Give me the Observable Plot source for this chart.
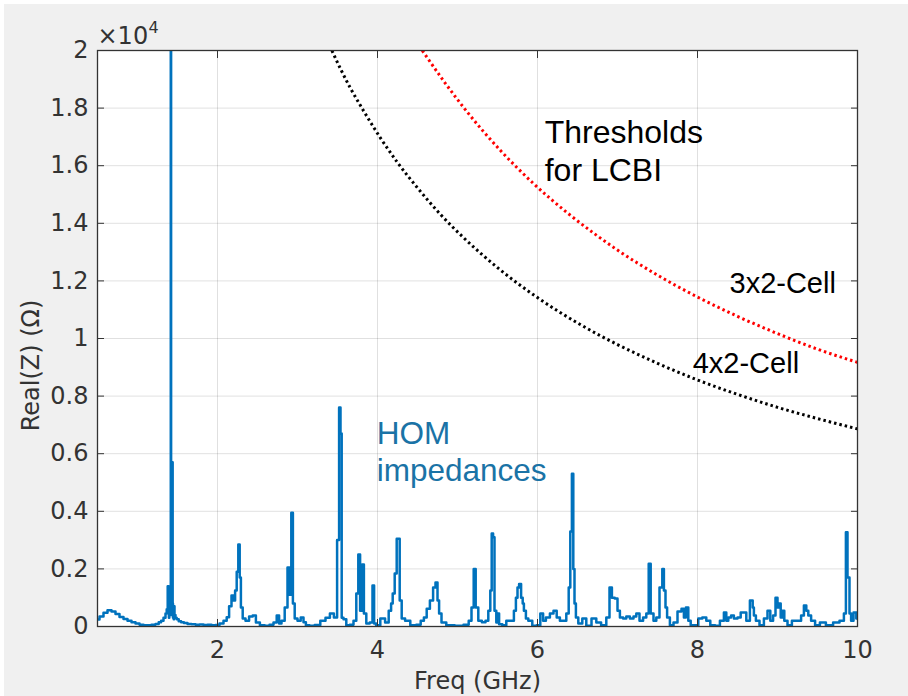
<!DOCTYPE html>
<html><head><meta charset="utf-8">
<script src="https://cdn.jsdelivr.net/npm/d3@7"></script>
<script src="https://cdn.jsdelivr.net/npm/@observablehq/plot@0.6"></script>
<style>
html,body{margin:0;padding:0;background:#fff;}
#chart{position:absolute;left:4px;top:4px;}
</style></head><body><div id="chart"></div>
<script>
// HOM impedance spectrum (GHz, Ohm)
const homFreq = [0.50,0.55,0.60,0.65,0.70,0.75,0.80,0.85,0.90,0.95,1.00,1.05,1.10,1.15,1.20,1.25,1.28,1.31,1.34,1.36,1.37,1.385,1.39,1.395,1.40,1.405,1.41,1.414,1.418,1.422,1.425,1.428,1.43,1.437,1.442,1.445,1.45,1.455,1.46,1.465,1.47,1.48,1.50,1.53,1.56,1.60,1.65,1.70,1.75,1.80,1.85,1.90,1.95,2.00,
2.05,2.10,2.13,2.16,2.19,2.21,2.23,2.25,2.27,2.285,2.30,2.33,2.37,2.42,2.46,2.50,2.56,2.62,2.68,2.72,2.76,2.78,2.82,2.86,2.89,2.91,2.935,2.95,2.98,3.02,3.06,3.09,3.12,3.18,3.25,3.32,3.38,3.43,3.48,3.51,3.53,3.545,3.56,3.59,3.63,3.68,3.72,3.75,3.77,3.795,3.82,3.84,3.88,3.925,3.95,3.965,4.00,
4.07,4.12,4.16,4.18,4.20,4.23,4.25,4.27,4.285,4.32,4.37,4.45,4.52,4.56,4.60,4.63,4.68,4.71,4.74,4.76,4.78,4.82,4.90,5.03,5.12,5.16,5.19,5.215,5.24,5.28,5.33,5.37,5.40,5.42,5.435,5.455,5.47,5.50,5.51,5.53,5.59,5.63,5.69,5.72,5.74,5.76,5.78,5.81,5.82,5.84,5.87,5.90,5.97,6.01,
6.06,6.08,6.13,6.18,6.22,6.26,6.30,6.34,6.38,6.40,6.42,6.44,6.455,6.47,6.49,6.53,6.59,6.63,6.72,6.75,6.84,6.88,6.92,6.94,6.99,7.01,7.05,7.09,7.13,7.18,7.22,7.25,7.30,7.34,7.38,7.40,7.43,7.47,7.50,7.55,7.57,7.59,7.61,7.63,7.68,7.72,7.78,7.82,7.84,7.87,7.90,7.93,7.99,
8.03,8.09,8.13,8.19,8.25,8.31,8.35,8.37,8.40,8.44,8.47,8.53,8.55,8.59,8.63,8.68,8.70,8.71,8.75,8.80,8.86,8.89,8.93,8.96,8.99,9.01,9.03,9.05,9.07,9.10,9.15,9.21,9.28,9.31,9.35,9.37,9.40,9.44,9.50,9.56,9.65,9.74,9.81,9.85,9.86,9.89,9.91,9.93,9.97,10.0];
const homZ = [240,350,480,560,520,430,330,260,200,150,100,60,40,40,60,90,150,200,300,450,600,1400,700,300,900,400,1200,500,20000,700,1500,400,900,5700,800,300,600,250,700,300,400,300,250,180,150,120,90,80,60,70,50,60,40,50,
100,200,320,700,1080,900,1250,1900,2850,1700,660,280,200,350,380,140,40,30,60,140,380,100,200,660,2050,1100,3950,800,280,200,310,150,40,30,50,200,300,450,310,3000,7600,6700,300,250,40,60,200,1150,2500,550,2150,450,100,140,1420,100,40,
280,140,550,800,1150,1840,3050,3050,900,280,200,40,60,200,310,620,900,1350,1530,900,450,140,40,30,60,200,660,2000,660,200,150,200,550,1250,3230,3100,550,140,450,80,40,200,200,550,1000,1350,1480,1000,800,550,280,200,30,40,
450,200,310,450,550,310,200,200,450,1350,3300,5300,2000,800,310,100,280,30,280,140,40,310,1350,1000,970,550,310,280,350,280,350,450,200,310,450,2180,450,200,310,1350,2000,1250,660,310,40,140,520,620,310,660,200,40,40,
280,310,200,40,30,200,490,200,310,380,280,310,490,490,200,900,660,380,200,40,280,550,200,380,1000,660,800,310,550,200,40,200,200,380,730,550,380,200,40,140,40,140,200,450,3270,1700,450,200,490,280];

// LCBI thresholds
const cell4Freq = [3.43,3.54,3.66,3.81,3.93,4.04,4.25,4.5,4.79,5.08,5.5,6,6.5,6.79,7,7.5,8,8.5,9,9.5,10];
const cell4Z    = [20000,19350,18700,17980,17430,16950,16110,15230,14300,13490,12460,11420,10540,10090,9790,9140,8560,8060,7610,7220,6860];
const cell3Freq = [4.56,4.83,5.12,5.54,5.95,6.37,6.75,7,7.5,8,8.5,9,9.5,10];
const cell3Z    = [20000,18930,17870,16520,15380,14370,13560,13070,12200,11440,10770,10170,9630,9170];

// ticks
const xTicks = [2,4,6,8,10];
const yTicks = [0,2000,4000,6000,8000,10000,12000,14000,16000,18000,20000];

// annotations
const annText  = ["Thresholds","for LCBI","3x2-Cell","4x2-Cell","HOM","impedances"];
const annFreq  = [6.09,6.09,8.4,7.94,3.99,3.99];
const annZ     = [16771,15486,11563,8819,6354,5069];
const annColor = ["#000","#000","#000","#000","#1a73a6","#1a73a6"];
const annSize  = [32,32,29,29,31.5,31.5];

const hom = homFreq.map((f,i)=>({f, z: homZ[i]}));
const cell4 = cell4Freq.map((f,i)=>({f, z: cell4Z[i]}));
const cell3 = cell3Freq.map((f,i)=>({f, z: cell3Z[i]}));
const ann = annText.map((t,i)=>({t, f: annFreq[i], z: annZ[i], c: annColor[i], s: annSize[i]}));

const fmtY = d => String(+(d/1e4).toFixed(1));
const axisFont = "DejaVu Sans";
const dotted = {strokeWidth: 3, strokeDasharray: "2.5,3", strokeLinecap: "butt", curve: "monotone-x", clip: true};

const chart = Plot.plot({
  width: 904, height: 692,
  marginLeft: 93, marginRight: 51, marginTop: 46, marginBottom: 70,
  x: {domain: [0.5, 10]},
  y: {domain: [0, 20000]},
  style: {background: "#f0f0f0", fontFamily: axisFont, fontSize: "24px", color: "#333"},
  marks: [
    Plot.frame({fill: "white", stroke: null}),
    Plot.gridX(xTicks, {stroke: "#000", strokeOpacity: 0.12}),
    Plot.gridY(yTicks, {stroke: "#000", strokeOpacity: 0.12}),
    Plot.line(hom, {x: "f", y: "z", stroke: "#0072bd", strokeWidth: 2.5, curve: "step", clip: true}),
    Plot.line(cell4, {x: "f", y: "z", stroke: "#000", ...dotted}),
    Plot.line(cell3, {x: "f", y: "z", stroke: "#ff0000", ...dotted}),
    Plot.frame({stroke: "#333", strokeWidth: 1.3}),
    Plot.axisX(xTicks, {anchor: "bottom", tickSize: -7, tickPadding: 21, label: null, fontSize: 24, fill: "#333"}),
    Plot.axisX(xTicks, {anchor: "top", tickSize: -7, tickFormat: () => "", label: null}),
    Plot.axisY(yTicks, {anchor: "left", tickSize: -7, tickPadding: 16, tickFormat: fmtY, label: null, fontSize: 24, fill: "#333"}),
    Plot.axisY(yTicks, {anchor: "right", tickSize: -7, tickFormat: () => "", label: null}),
    Plot.text(["×10"], {frameAnchor: "top-left", textAnchor: "start", lineAnchor: "bottom", dy: -7, fontSize: 24, fill: "#333"}),
    Plot.text(["4"], {frameAnchor: "top-left", textAnchor: "start", lineAnchor: "bottom", dx: 51, dy: -18, fontSize: 16, fill: "#333"}),
    Plot.text(["Freq (GHz)"], {frameAnchor: "bottom", textAnchor: "middle", lineAnchor: "bottom", dy: 62, fontSize: 24, fill: "#333"}),
    Plot.text(["Real(Z) (Ω)"], {frameAnchor: "left", textAnchor: "middle", lineAnchor: "bottom", rotate: -90, dx: -59, dy: 27, fontSize: 24, fill: "#333"}),
    Plot.text(ann, {x: "f", y: "z", text: "t", fill: "c", fontSize: "s", textAnchor: "start", lineAnchor: "bottom", fontFamily: "Liberation Sans"})
  ]
});
document.getElementById("chart").appendChild(chart);
</script>
</body></html>
